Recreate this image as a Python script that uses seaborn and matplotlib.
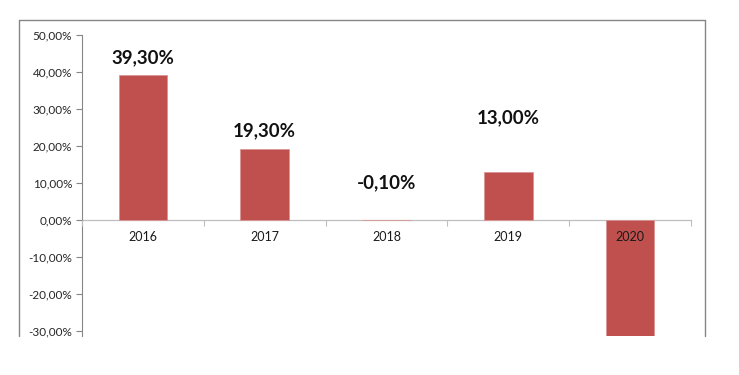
import matplotlib
matplotlib.use("Agg")
import matplotlib.pyplot as plt
import matplotlib.ticker as mticker
from matplotlib.lines import Line2D
import seaborn as sns

# Data
years = ["2016", "2017", "2018", "2019", "2020"]
returns = [0.393, 0.193, -0.001, 0.130, -0.35]
labels = ["39,30%", "19,30%", "-0,10%", "13,00%", ""]
label_offsets = [12, 13, 27, 39, 0]  # points above bar top (manual placement in original)

bar_color = "#C0504D"
axis_gray = "#868686"

sns.set_style("white")
plt.rcParams["font.family"] = ["Lato", "DejaVu Sans"]

fig = plt.figure(figsize=(7.39, 3.75), dpi=100)
W, H = 739, 375
ax = fig.add_axes([82 / W, 1 - 336 / H, (691 - 82) / W, (336 - 35) / H])

sns.barplot(x=years, y=returns, color=bar_color, width=0.4, ax=ax,
            edgecolor="#D99694", linewidth=0.6, saturation=1)

ax.set_xlim(-0.5, 4.5)
ax.set_ylim(-0.3135, 0.5)
ax.set_yticks([-0.3, -0.2, -0.1, 0.0, 0.1, 0.2, 0.3, 0.4, 0.5])
ax.yaxis.set_major_formatter(mticker.FuncFormatter(
    lambda v, p: f"{v * 100:.2f}%".replace(".", ",").replace("-0,00", "0,00")))
ax.set_xlabel("")
ax.set_ylabel("")
ax.set_axisbelow(False)
ax.xaxis.set_zorder(5)

for s in ["top", "right"]:
    ax.spines[s].set_visible(False)
ax.spines["left"].set_color(axis_gray)
ax.spines["left"].set_linewidth(0.8)
ax.spines["bottom"].set_position(("data", 0))
ax.spines["bottom"].set_color("#BFBFBF")
ax.spines["bottom"].set_linewidth(0.9)
ax.spines["bottom"].set_zorder(0.8)

ax.tick_params(axis="y", length=4, width=0.8, color=axis_gray, labelsize=8.5,
               labelcolor="#262626", pad=3, left=True)
ax.tick_params(axis="x", which="major", length=0, labelsize=9, labelcolor="#1a1a1a", pad=8)
ax.set_xticks([-0.5, 0.5, 1.5, 2.5, 3.5, 4.5], minor=True)
ax.tick_params(axis="x", which="minor", length=4, width=0.8, color="#BFBFBF", bottom=True)

for i, (v, t, off) in enumerate(zip(returns, labels, label_offsets)):
    if t:
        ax.annotate(t, (i, max(v, 0)), xytext=(0, off), textcoords="offset points",
                    ha="center", va="center", fontsize=13.5, fontweight="bold", color="#111111")

# outer chart border (bottom edge cropped off in the original)
x0, x1, y0, y1 = 19 / W, 705 / W, 1 - 20 / H, 1 - 336 / H
for xs, ys in [([x0, x0], [y1, y0]), ([x0, x1], [y0, y0]), ([x1, x1], [y0, y1])]:
    fig.add_artist(Line2D(xs, ys, color=axis_gray, linewidth=1.0))

fig.savefig("out.png", dpi=100)
